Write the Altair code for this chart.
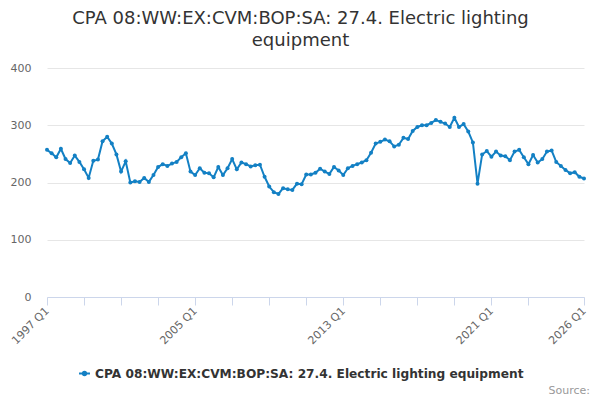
import altair as alt
import pandas as pd

years = list(range(1997, 2027))
quarters = [f"{y} Q{q}" for y in years for q in (1, 2, 3, 4)][:117]

values = [
    257, 251, 244, 259, 241, 234, 247, 236, 223, 208,
    238, 240, 272, 280, 268, 249, 219, 237, 200, 202,
    201, 208, 201, 213, 227, 232, 229, 233, 236, 244,
    251, 219, 213, 225, 217, 216, 209, 227, 213, 225,
    241, 223, 235, 232, 228, 230, 231, 210, 193, 183,
    180, 190, 188, 187, 198, 197, 214, 214, 217, 224,
    219, 215, 227, 221, 213, 225, 229, 232, 235, 239,
    252, 268, 271, 275, 272, 263, 266, 278, 276, 290,
    297, 300, 300, 304, 309, 306, 303, 297, 313, 297,
    302, 289, 270, 198, 249, 255, 245, 254, 247, 246,
    239, 254, 257, 244, 232, 248, 235, 241, 254, 256,
    236, 229, 222, 216, 218, 210, 207,
]

series_name = "CPA 08:WW:EX:CVM:BOP:SA: 27.4. Electric lighting equipment"
title_lines = ["CPA 08:WW:EX:CVM:BOP:SA: 27.4. Electric lighting", "equipment"]
tick_quarters = [quarters[i] for i in range(0, 105, 8)] + [quarters[116]]
label_quarters = ["1997 Q1", "2005 Q1", "2013 Q1", "2021 Q1", "2026 Q1"]
y_ticks = [0, 100, 200, 300, 400]

df = pd.DataFrame({"quarter": quarters, "value": values, "series": series_name})

color = "#1380c4"
font = "DejaVu Sans"

label_list = "[" + ",".join(f"'{q}'" for q in label_quarters) + "]"

base = alt.Chart(df)

line = base.mark_line(strokeWidth=2, point=alt.OverlayMarkDef(size=16, filled=True, color=color)).encode(
    x=alt.X(
        "quarter:O",
        sort=None,
        scale=alt.Scale(type="point", padding=0),
        axis=alt.Axis(
            title=None,
            values=tick_quarters,
            labelExpr=f"indexof({label_list}, datum.value) >= 0 ? datum.value : ''",
            labelAngle=-45,
            labelAlign="right",
            labelBaseline="middle",
            labelFontSize=11,
            labelColor="#666666",
            labelFont=font,
            labelPadding=4,
            domainColor="#ccd6eb",
            tickColor="#ccd6eb",
            tickSize=8,
            grid=False,
            labelOverlap=False,
        ),
    ),
    y=alt.Y(
        "value:Q",
        scale=alt.Scale(domain=[0, 400], nice=False),
        axis=alt.Axis(
            title=None,
            values=y_ticks,
            labelFontSize=11,
            labelColor="#666666",
            labelFont=font,
            labelPadding=16,
            domain=False,
            ticks=False,
            gridColor="#e6e6e6",
        ),
    ),
    color=alt.Color(
        "series:N",
        scale=alt.Scale(range=[color]),
        legend=alt.Legend(
            title=None,
            orient="none",
            legendX=31,
            legendY=299,
            symbolType="M-1,0L1,0M-0.3,0a0.3,0.3 0 1,0 0.6,0a0.3,0.3 0 1,0 -0.6,0",
            symbolSize=120,
            symbolStrokeWidth=2,
            symbolFillColor=color,
            symbolStrokeColor=color,
            labelFontSize=12.2,
            labelFontWeight="bold",
            labelColor="#333333",
            labelFont=font,
            labelLimit=600,
        ),
    ),
)

source = alt.Chart(pd.DataFrame({"t": ["Source:"]})).mark_text(
    align="right", baseline="bottom", fontSize=11, color="#999999", font=font
).encode(text="t:N", x=alt.value(543), y=alt.value(328))

chart = alt.layer(line, source).properties(
    width=537,
    height=229,
    padding={"left": 39, "top": 60, "right": 8, "bottom": 104},
    autosize=alt.AutoSizeParams(type="none"),
    title=alt.TitleParams(
        text=title_lines,
        anchor="middle",
        fontSize=18,
        fontWeight="normal",
        font=font,
        color="#333333",
        offset=12,
        dx=-15,
        lineHeight=22,
    ),
).configure_view(stroke=None)

chart.save("out.html", embed_options={"renderer": "svg", "actions": False})
